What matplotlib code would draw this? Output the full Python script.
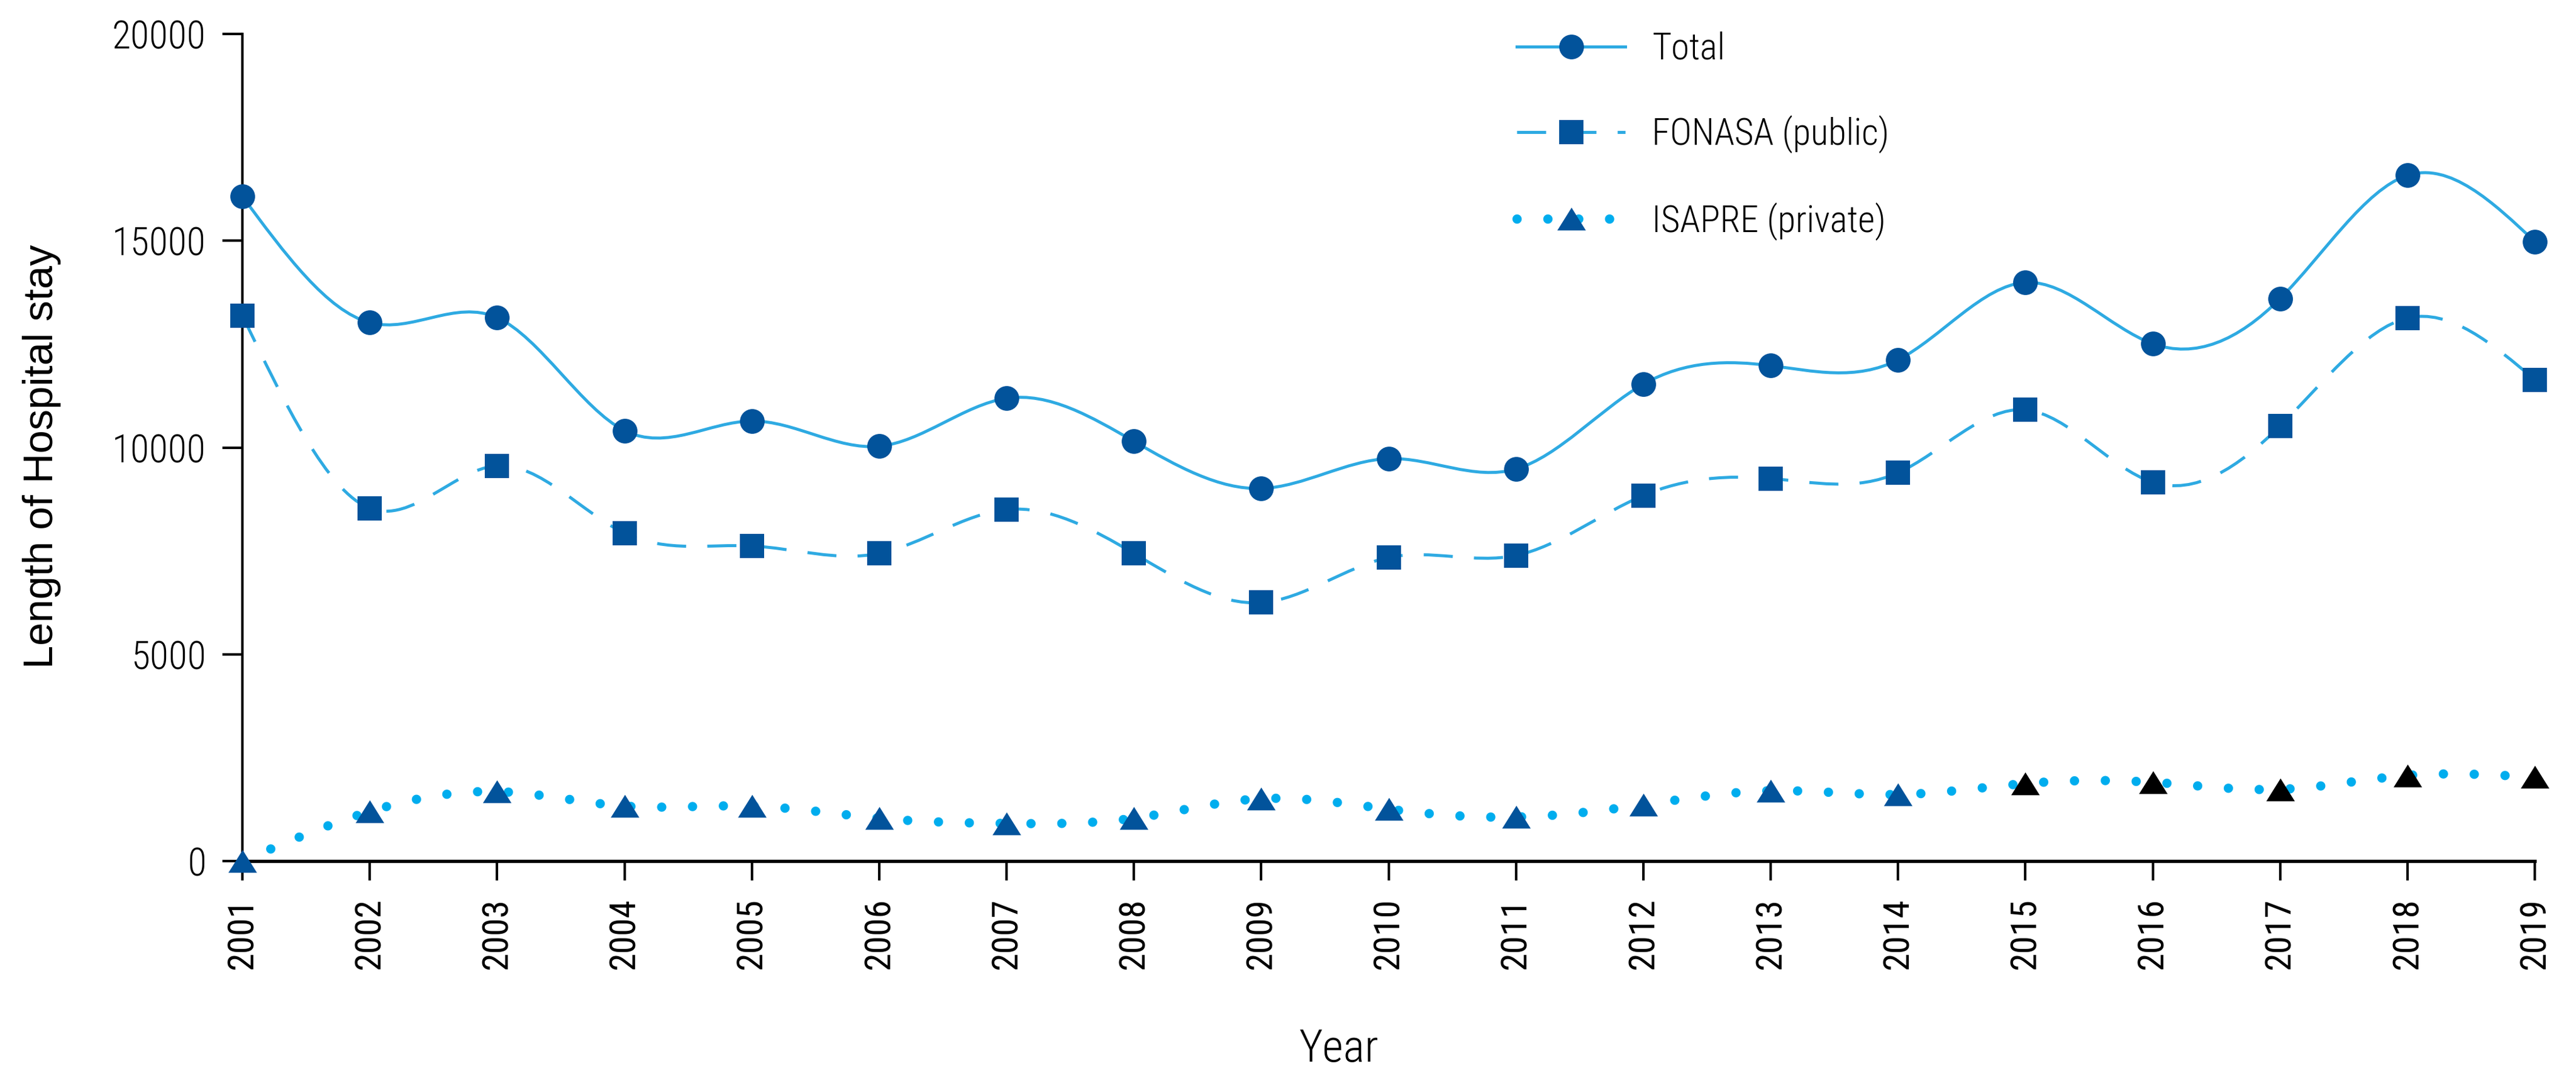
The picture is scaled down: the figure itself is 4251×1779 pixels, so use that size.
import numpy as np
import matplotlib
matplotlib.use("Agg")
import matplotlib.pyplot as plt
from matplotlib.path import Path
from matplotlib.patches import PathPatch
from matplotlib.lines import Line2D
from matplotlib import font_manager as fm

# ---------------- data ----------------
years = [2001, 2002, 2003, 2004, 2005, 2006, 2007, 2008, 2009, 2010,
         2011, 2012, 2013, 2014, 2015, 2016, 2017, 2018, 2019]
total = [16070, 13020, 13140, 10410, 10640, 10030, 11190, 10150, 9010, 9730,
         9480, 11530, 11980, 12120, 13990, 12510, 13600, 16580, 14980]
fonasa = [13190, 8530, 9560, 7930, 7620, 7440, 8500, 7440, 6250, 7340,
          7390, 8840, 9250, 9390, 10910, 9160, 10520, 13130, 11640]
isapre = [0, 1200, 1680, 1330, 1330, 1035, 910, 1035, 1510, 1255,
          1065, 1360, 1700, 1610, 1875, 1905, 1735, 2070, 2030]
series_labels = ["Total", "FONASA (public)", "ISAPRE (private)"]
y_ticks = [0, 5000, 10000, 15000, 20000]
x_label = "Year"
y_label = "Length of Hospital stay"

# ---------------- styles ----------------
DARK = "#02539b"
LIGHT = "#2eaae2"
DOT = "#00adee"
isapre_marker_colors = [DARK] * 14 + ["black"] * 5

names = {f.name for f in fm.fontManager.ttflist}
if "Roboto Condensed" in names:
    NARROW = dict(family=["Roboto Condensed", "DejaVu Sans"], weight="light")
elif "Liberation Sans Narrow" in names:
    NARROW = dict(family=["Liberation Sans Narrow", "DejaVu Sans"])
else:
    NARROW = dict(family=["DejaVu Sans"], stretch="condensed")
REG = dict(family=["Liberation Sans", "DejaVu Sans"])

W, H, DPI = 4251, 1779, 300
fig = plt.figure(figsize=(W / DPI, H / DPI), dpi=DPI)
ax = fig.add_axes([400 / W, 1 - 1421 / H, (4183 - 400) / W, (1421 - 56) / H])
ax.set_xlim(years[0], years[-1])
ax.set_ylim(0, 20000)


def spline_path(xs, ys):
    """Natural cubic spline through the points, as Bezier segments."""
    x = np.asarray(xs, float)
    y = np.asarray(ys, float)
    n = len(x)
    h = np.diff(x)
    d = np.diff(y) / h
    A = np.zeros((n, n))
    b = np.zeros(n)
    A[0, 0], A[0, 1], b[0] = 2, 1, 3 * d[0]
    A[-1, -2], A[-1, -1], b[-1] = 1, 2, 3 * d[-1]
    for i in range(1, n - 1):
        A[i, i - 1] = h[i]
        A[i, i] = 2 * (h[i - 1] + h[i])
        A[i, i + 1] = h[i - 1]
        b[i] = 3 * (h[i] * d[i - 1] + h[i - 1] * d[i])
    m = np.linalg.solve(A, b)
    verts = [(x[0], y[0])]
    codes = [Path.MOVETO]
    for i in range(n - 1):
        verts += [(x[i] + h[i] / 3, y[i] + m[i] * h[i] / 3),
                  (x[i + 1] - h[i] / 3, y[i + 1] - m[i + 1] * h[i] / 3),
                  (x[i + 1], y[i + 1])]
        codes += [Path.CURVE4] * 3
    return Path(verts, codes)


LW = 1.2
dash_fon = (0, (9.6, 7.0))
dot_lw = 3.7
dot_style = (0, (0.001, 3.3))

ax.add_patch(PathPatch(spline_path(years, total), fill=False, edgecolor=LIGHT,
                       lw=LW, zorder=2))
ax.add_patch(PathPatch(spline_path(years, fonasa), fill=False, edgecolor=LIGHT,
                       lw=LW, linestyle=dash_fon, zorder=2))
p = PathPatch(spline_path(years, isapre), fill=False, edgecolor=DOT,
              lw=dot_lw, linestyle=dot_style, zorder=2)
p.set_capstyle("round")
ax.add_patch(p)

tri = Path([(-1, -0.8), (1, -0.8), (0, 0.8), (-1, -0.8)],
           [Path.MOVETO, Path.LINETO, Path.LINETO, Path.CLOSEPOLY])
MS = 9.8
TRI_MS = 11.3

ax.plot(years, total, ls="none", marker="o", ms=MS, mfc=DARK, mec="none",
        clip_on=False, zorder=4)
ax.plot(years, fonasa, ls="none", marker="s", ms=MS, mfc=DARK, mec="none",
        clip_on=False, zorder=4)
for x, y, c in zip(years, isapre, isapre_marker_colors):
    ax.plot([x], [y], ls="none", marker=tri, ms=TRI_MS, mfc=c, mec="none",
            clip_on=False, zorder=4)

# ---------------- axes ----------------
for s in ("top", "right"):
    ax.spines[s].set_visible(False)
ax.spines["left"].set_linewidth(1.0)
ax.spines["bottom"].set_linewidth(1.3)
ax.set_xticks(years)
ax.set_xticklabels([str(y) for y in years], rotation=90, fontsize=14.3,
                   family=NARROW["family"])
ax.set_yticks(y_ticks)
ax.set_yticklabels([str(v) for v in y_ticks], fontsize=15.3, **NARROW)
ax.tick_params(axis="x", length=7.7, width=1.0, pad=7, direction="out")
ax.tick_params(axis="y", length=7.9, width=1.0, pad=6.5, direction="out")

ax.set_xlabel(x_label, fontsize=18, **NARROW)
ax.xaxis.label.set_va("baseline")
ax.xaxis.set_label_coords(0.4784, -0.2425)
ax.set_ylabel(y_label, fontsize=16.5, **REG)
ax.yaxis.label.set_va("center")
ax.yaxis.set_label_coords(-0.0876, 0.489)

# ---------------- legend ----------------
h1 = Line2D([], [], color=LIGHT, lw=LW, marker="o", ms=MS, mfc=DARK, mec="none")
h2 = Line2D([], [], color=LIGHT, lw=LW, linestyle=dash_fon, marker="s", ms=MS,
            mfc=DARK, mec="none")
h3 = Line2D([], [], color=DOT, lw=dot_lw, linestyle=dot_style,
            dash_capstyle="round", marker=tri, ms=TRI_MS, mfc=DARK, mec="none")
leg = ax.legend([h1, h2, h3], series_labels, loc="upper left",
                bbox_to_anchor=(2503 / W, 1 - 52 / H), bbox_transform=fig.transFigure,
                frameon=False, borderpad=0, borderaxespad=0, handlelength=2.95,
                handletextpad=0.72, labelspacing=1.32, numpoints=1,
                prop=fm.FontProperties(size=14.6, **NARROW))

fig.savefig("out.png", dpi=DPI)
